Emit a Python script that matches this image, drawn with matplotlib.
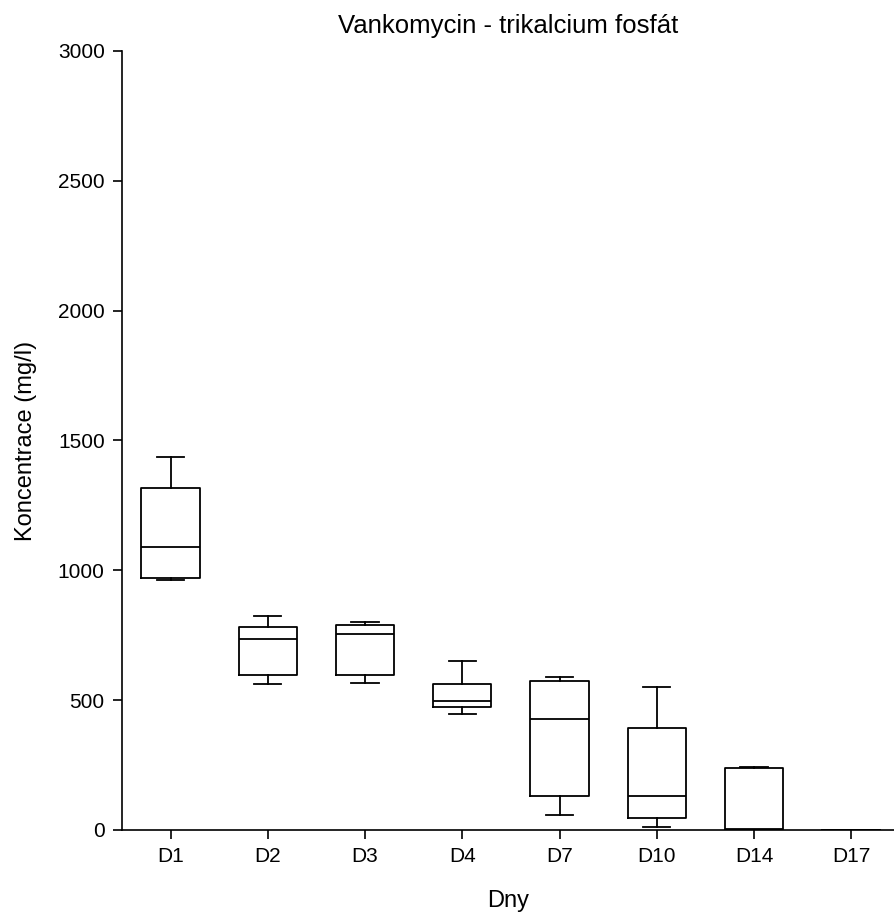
import matplotlib.pyplot as plt

plt.rcParams['font.family'] = ['Liberation Sans', 'DejaVu Sans']

# Dny odběru a statistiky boxplotu (min, Q1, medián, Q3, max) v mg/l
dny = ['D1', 'D2', 'D3', 'D4', 'D7', 'D10', 'D14', 'D17']
minimum = [964, 561, 566, 447, 58, 10, 0, 0]
q1 = [970, 597, 597, 472, 130, 46, 0, 0]
median = [1090, 735, 753, 495, 428, 130, 5, 0]
q3 = [1318, 782, 790, 561, 573, 394, 237, 0]
maximum = [1438, 826, 801, 651, 590, 550, 244, 0]

stats = []
for i in range(len(dny)):
    stats.append({'label': dny[i], 'whislo': minimum[i], 'q1': q1[i],
                  'med': median[i], 'q3': q3[i], 'whishi': maximum[i],
                  'fliers': []})

fig = plt.figure(figsize=(8.94, 9.15), dpi=100)
ax = fig.add_axes([0.1365, 0.0929, 0.8635, 0.8514])

line = dict(color='black', linewidth=1.3)
ax.bxp(stats, positions=range(1, len(dny) + 1), widths=0.6, capwidths=0.28,
       showfliers=False, boxprops=line, whiskerprops=line, capprops=line,
       medianprops=line)

ax.set_xlim(0.5, 8.44)
ax.set_ylim(0, 3000)
ax.set_yticks(range(0, 3001, 500))
ax.set_xticks(range(1, len(dny) + 1))
ax.set_xticklabels(dny)

ax.spines['top'].set_visible(False)
ax.spines['right'].set_visible(False)
ax.spines['left'].set_linewidth(1.2)
ax.spines['bottom'].set_linewidth(1.2)
ax.tick_params(axis='both', direction='out', length=6.5, width=1.2,
               labelsize=15, pad=6)

ax.set_title('Vankomycin - trikalcium fosfát', fontsize=18.5, pad=13)
ax.set_xlabel('Dny', fontsize=17, labelpad=17)
ax.set_ylabel('Koncentrace (mg/l)', fontsize=17, labelpad=15)

fig.savefig('out.png', dpi=100)
